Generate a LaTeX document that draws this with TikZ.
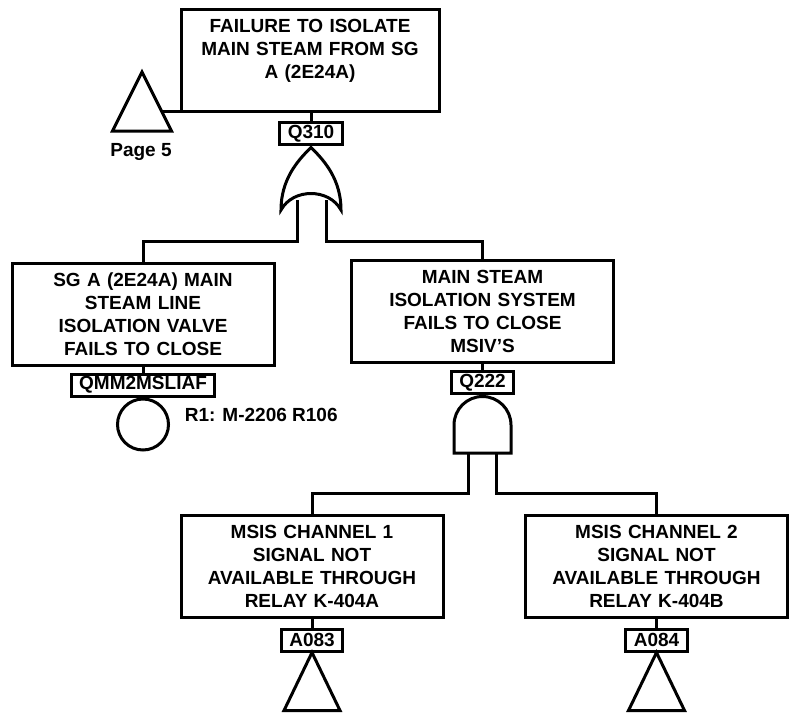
\documentclass[tikz,border=0pt]{standalone}
\usepackage{fontspec}
\setmainfont{Liberation Sans}
\begin{document}
\begin{tikzpicture}[x=1pt, y=-1pt, line width=3pt, line join=miter,
  txt/.style={font=\fontsize{19}{23}\selectfont\bfseries},
  evbox/.style={txt, draw, fill=white, align=center, inner sep=0pt,
    text width=262pt, minimum height=102pt},
  tag/.style={txt, draw, fill=white, inner xsep=8pt, inner ysep=0pt,
    minimum height=22pt},
  basic/.style={draw, circle, fill=white, minimum size=51pt, inner sep=0pt},
  conn/.style={line width=3pt}]
\useasboundingbox (0,0) rectangle (793,716);

% ---- top event and its transfer-in triangle
\node[evbox, text width=258pt, minimum height=102pt] (top) at (310,60.5)
  {FAILURE TO ISOLATE\\MAIN STEAM FROM SG\\A (2E24A)\\\mbox{}};
\node[tag] (q310) at (311,133.5) {Q310};
\draw[conn] (top.south -| q310) -- (q310.north);

\coordinate (p5apex) at (142,72);
\coordinate (p5join) at (162.5,111.5);
\draw[conn] (p5apex) -- (112.5,131) -- (171.5,131) -- cycle;
\draw[conn] (p5join) -- (p5join -| top.west);
\node[txt, anchor=north] (p5) at (141,139) {Page 5};

% ---- OR gate Q310
\coordinate (orL) at (297,200);
\coordinate (orR) at (326,200);
\node[evbox] (lmid) at (143,314)
  {SG A (2E24A) MAIN\\STEAM LINE\\ISOLATION VALVE\\FAILS TO CLOSE};
\node[evbox] (rmid) at (482.5,311.5)
  {MAIN STEAM\\ISOLATION SYSTEM\\FAILS TO CLOSE\\MSIV'S};
\draw[conn] (orL) -- (297,241) -| (lmid.north);
\draw[conn] (orR) -- (326,241) -| (rmid.north);
\draw[conn, fill=white] (281,210) .. controls (281,180) and (297,161) .. (311,147.5)
  .. controls (325,161) and (341,180) .. (341,210)
  .. controls (329,188) and (293,188) .. (281,210) -- cycle;

% ---- basic event under the left branch
\node[tag] (qmm) at (143,385) {QMM2MSLIAF};
\draw[conn] (lmid.south) -- (qmm.north);
\node[basic, anchor=north] (be) at (qmm.south) {};
\node[txt, anchor=west] (ref) at (180,415) {R1: M-2206 R106};

% ---- AND gate Q222
\node[tag] (q222) at (482.5,382.5) {Q222};
\draw[conn] (rmid.south) -- (q222.north);
\node[evbox] (lbot) at (312,566)
  {MSIS CHANNEL 1\\SIGNAL NOT\\AVAILABLE THROUGH\\RELAY K-404A};
\node[evbox] (rbot) at (656.5,566)
  {MSIS CHANNEL 2\\SIGNAL NOT\\AVAILABLE THROUGH\\RELAY K-404B};
\coordinate (andL) at (468.5,450);
\coordinate (andR) at (496.5,450);
\draw[conn] (andL) -- (468.5,493) -| (lbot.north);
\draw[conn] (andR) -- (496.5,493) -| (rbot.north);
\draw[conn, fill=white] (454,453) -- (454,425) arc[start angle=180, end angle=360, radius=28.5]
  -- (511,453) -- cycle;

% ---- transfer triangles under the bottom events
\node[tag] (a083) at (312,640) {A083};
\node[tag] (a084) at (656.5,640) {A084};
\draw[conn] (lbot.south) -- (a083.north);
\draw[conn] (rbot.south) -- (a084.north);
\draw[conn] (a083.south) -- ++(-28,58) -- ++(56,0) -- cycle;
\draw[conn] (a084.south) -- ++(-28,58) -- ++(56,0) -- cycle;
\end{tikzpicture}
\end{document}
